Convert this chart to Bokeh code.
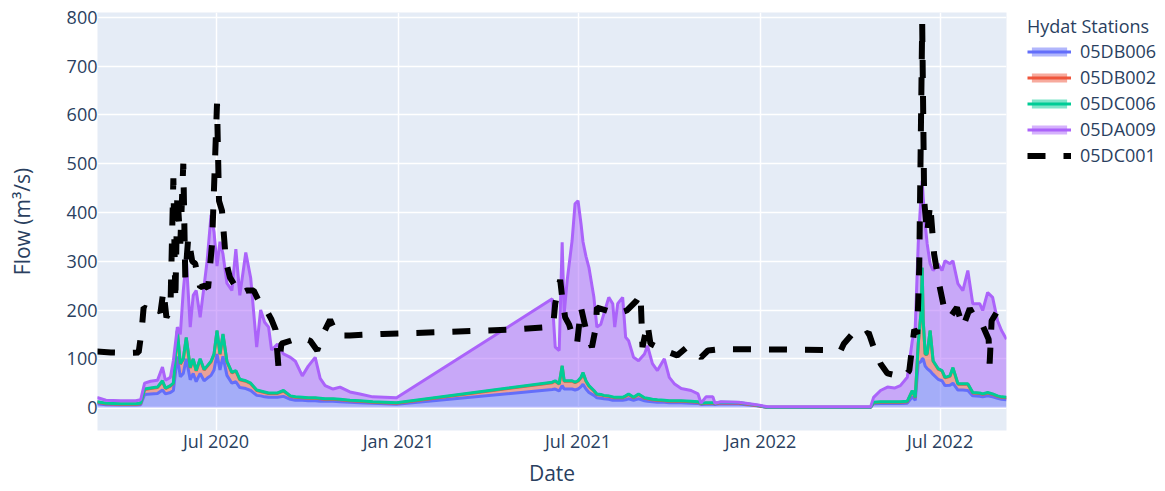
import pandas as pd
from datetime import datetime
from bokeh.plotting import figure
from bokeh.models import (ColumnDataSource, Range1d, FixedTicker, DatetimeTickFormatter,
                          Legend, LegendItem, Span)
from bokeh.embed import file_html
from bokeh.resources import INLINE

FONT = "Open Sans"
TEXT = "#2a3f5f"

stations = ["05DB006", "05DB002", "05DC006", "05DA009"]
colors = ["#636efa", "#EF553B", "#00cc96", "#ab63fa"]

stack_dates = [
    "2020-03-03", "2020-03-12", "2020-03-27", "2020-04-11", "2020-04-16", "2020-04-20", "2020-04-26",
    "2020-05-03", "2020-05-08", "2020-05-11", "2020-05-16", "2020-05-19", "2020-05-23", "2020-05-26",
    "2020-05-29", "2020-06-01", "2020-06-05", "2020-06-08", "2020-06-11", "2020-06-15", "2020-06-19",
    "2020-06-22", "2020-06-26", "2020-06-29", "2020-07-02", "2020-07-05", "2020-07-08", "2020-07-12",
    "2020-07-17", "2020-07-21", "2020-07-25", "2020-07-31", "2020-08-05", "2020-08-11", "2020-08-15",
    "2020-08-19", "2020-08-23", "2020-08-26", "2020-09-01", "2020-09-07", "2020-09-14", "2020-09-19",
    "2020-09-26", "2020-10-02", "2020-10-09", "2020-10-14", "2020-10-19", "2020-10-27", "2020-11-03",
    "2020-11-13", "2020-11-23", "2020-12-06", "2020-12-18", "2020-12-30",
    "2021-06-05", "2021-06-08", "2021-06-12", "2021-06-15", "2021-06-17", "2021-06-20", "2021-06-25",
    "2021-06-28", "2021-07-01", "2021-07-04", "2021-07-06", "2021-07-09", "2021-07-12", "2021-07-17",
    "2021-07-20", "2021-07-24", "2021-07-27", "2021-08-01", "2021-08-05", "2021-08-07", "2021-08-10",
    "2021-08-15", "2021-08-18", "2021-08-21", "2021-08-26", "2021-08-31", "2021-09-06", "2021-09-09",
    "2021-09-14", "2021-09-19", "2021-09-26", "2021-10-01", "2021-10-06", "2021-10-13", "2021-10-23",
    "2021-10-30", "2021-11-02", "2021-11-07", "2021-11-14", "2021-11-16", "2021-11-22", "2021-12-10",
    "2021-12-28", "2022-01-08", "2022-04-22", "2022-04-25", "2022-05-02", "2022-05-09", "2022-05-16",
    "2022-05-22", "2022-05-29", "2022-06-03", "2022-06-06", "2022-06-09", "2022-06-12", "2022-06-13",
    "2022-06-14", "2022-06-16", "2022-06-18", "2022-06-21", "2022-06-24", "2022-06-29", "2022-07-03",
    "2022-07-06", "2022-07-11", "2022-07-14", "2022-07-19", "2022-07-24", "2022-07-29", "2022-08-03",
    "2022-08-10", "2022-08-13", "2022-08-18", "2022-08-23", "2022-08-28", "2022-09-01", "2022-09-06",
]

flow_05DB006 = [
    8, 6, 5.5, 5.5, 6, 27, 28, 29, 36, 28, 31, 35, 105, 63, 70, 100, 57, 70, 53, 70, 55,
    60, 66, 77, 110, 77, 105, 66, 50, 53, 41, 39, 35, 25, 24, 22, 21, 21, 21, 23, 17, 15,
    15, 14, 14, 13, 13, 13, 12, 11, 10, 9, 8, 7,
    37, 38, 34, 45, 38, 38, 38, 36, 38, 43, 48, 38, 31, 25, 20, 19, 18, 17, 15, 15, 15,
    15, 16, 18, 15, 18, 14, 13, 12, 11, 11, 10, 10, 10, 9, 8.5, 6.5, 7, 7, 6.5, 8, 7.5,
    3.5, 0.3, 0.3, 8, 8.5, 8.5, 8.5, 8.5, 9, 22, 15, 90, 95, 100, 100, 85, 80, 75, 68, 58,
    55, 45, 46, 50, 36, 36, 35, 24, 23, 22, 24, 22, 19, 17, 16,
]

flow_05DB002 = [
    3, 2, 1.5, 1.5, 2, 10, 11, 12, 18, 11, 13, 14, 52, 26, 29, 43, 24, 29, 22, 29, 22,
    24, 28, 32, 47, 32, 45, 28, 21, 22, 16, 15, 14, 10, 9, 9, 8, 8, 8, 11, 6, 6,
    5, 5, 5, 5, 4, 4, 4, 3, 3, 2, 2, 2,
    14, 16, 14, 40, 16, 16, 16, 15, 16, 18, 23, 16, 13, 9, 7, 7, 6, 6, 6, 5, 5,
    5, 7, 9, 5, 9, 5, 5, 4, 4, 3, 3, 3, 3, 3, 2.5, 1.5, 2, 2, 1.5, 2, 2,
    0.5, 0.3, 0.3, 2, 2.5, 2.5, 2.5, 2.5, 3, 12, 5, 40, 104, 186, 79, 24, 29, 82, 27, 21,
    20, 16, 18, 31, 12, 12, 13, 6, 6, 5, 6, 5, 4, 4, 4,
]

flow_05DC006 = [
    1, 1, 1, 1, 1, 1, 1, 1, 1, 1, 1, 1, 1, 1, 1, 1, 1, 1, 1, 1, 1,
    1, 1, 1, 1, 1, 1, 1, 1, 1, 1, 1, 1, 1, 1, 1, 1, 1, 1, 1, 1, 1,
    1, 1, 1, 1, 1, 1, 1, 1, 1, 1, 1, 1,
    1, 1, 1, 1, 1, 1, 1, 1, 1, 1, 1, 1, 1, 1, 1, 1, 1, 1, 1, 1, 1,
    1, 1, 1, 1, 1, 1, 1, 1, 1, 1, 1, 1, 1, 1, 1, 1, 1, 1, 1, 1, 1,
    1, 0.2, 0.2, 1, 1, 1, 1, 1, 1, 1, 1, 1, 1, 1, 1, 1, 1, 1, 1, 1,
    1, 1, 1, 1, 1, 1, 1, 1, 1, 1, 1, 1, 1, 1, 1,
]

flow_05DA009 = [
    9, 6, 6, 6, 7, 12, 14, 14, 28, 16, 17, 46, 7, 60, 140, 161, 83, 130, 164, 85, 172,
    215, 300, 250, 132, 230, 164, 160, 168, 249, 172, 263, 215, 88, 166, 143, 135, 88, 100, 75, 79, 73,
    44, 65, 83, 41, 27, 20, 25, 17, 14, 10, 10, 10,
    171, 69, 68, 253, 137, 205, 287, 366, 369, 315, 268, 255, 242, 191, 137, 144, 167, 202, 191, 144, 192,
    205, 120, 109, 82, 68, 90, 108, 73, 60, 85, 48, 35, 25, 22, 16, 0, 12, 12, 0, 1, 0.5,
    1, 0.7, 0.7, 10, 23, 30, 28, 33, 49, 102, 144, 205, 240, 178, 251, 267, 226, 137, 185, 215,
    205, 239, 230, 219, 205, 191, 232, 182, 183, 171, 205, 198, 154, 136, 119,
]

dc001_dates = [
    "2020-03-03", "2020-03-17", "2020-04-01", "2020-04-14", "2020-04-17", "2020-04-19", "2020-04-26",
    "2020-05-01", "2020-05-06", "2020-05-09", "2020-05-12", "2020-05-16", "2020-05-19", "2020-05-21",
    "2020-05-23", "2020-05-26", "2020-05-29", "2020-05-31", "2020-06-03", "2020-06-07", "2020-06-10",
    "2020-06-15", "2020-06-20", "2020-06-23", "2020-06-27", "2020-07-02", "2020-07-04", "2020-07-07",
    "2020-07-11", "2020-07-15", "2020-07-20", "2020-07-25", "2020-08-01", "2020-08-08", "2020-08-14",
    "2020-08-21", "2020-08-26", "2020-08-30", "2020-09-02", "2020-09-05", "2020-09-14", "2020-09-24",
    "2020-10-04", "2020-10-11", "2020-10-17", "2020-10-24", "2020-10-31", "2020-11-13", "2020-12-16",
    "2021-02-19", "2021-04-27", "2021-05-31", "2021-06-06", "2021-06-08", "2021-06-13", "2021-06-15",
    "2021-06-18", "2021-06-22", "2021-06-26", "2021-06-30", "2021-07-04", "2021-07-10", "2021-07-15",
    "2021-07-19", "2021-07-20", "2021-07-30", "2021-08-09", "2021-08-19", "2021-08-29", "2021-09-02",
    "2021-09-04", "2021-09-09", "2021-09-12", "2021-09-26", "2021-10-09", "2021-10-19", "2021-11-02",
    "2021-11-09", "2021-11-22", "2022-03-23", "2022-03-26", "2022-04-05", "2022-04-12", "2022-04-20",
    "2022-04-25", "2022-05-02", "2022-05-09", "2022-05-26", "2022-05-31", "2022-06-05", "2022-06-08",
    "2022-06-10", "2022-06-13", "2022-06-15", "2022-06-18", "2022-06-21", "2022-06-25", "2022-06-30",
    "2022-07-05", "2022-07-11", "2022-07-18", "2022-07-24", "2022-07-31", "2022-08-07", "2022-08-13",
    "2022-08-19", "2022-08-20", "2022-08-22", "2022-08-27", "2022-09-06",
]

flow_05DC001 = [
    115, 113, 112, 113, 158, 205, 200,
    210, 195, 240, 185, 200, 470, 219,
    440, 336, 500, 267, 349, 300, 295,
    247, 250, 245, 336, 623, 424, 404,
    300, 267, 250, 233, 240, 240, 215,
    199, 180, 160, 82, 131, 137, 144,
    137, 117, 151, 180, 148, 148, 151,
    155, 160, 165, 170, 213, 262, 226,
    185, 170, 144, 131, 205, 151, 124,
    165, 205, 199, 192, 199, 219, 233,
    124, 172, 131, 117, 107, 124, 103,
    117, 120, 118, 131, 154, 144, 154,
    124, 90, 70, 62, 76, 160, 151,
    287, 787, 424, 356, 418, 315, 254,
    205, 185, 205, 165, 203, 178, 168,
    140, 90, 178, 195, 189,
]

x_tick_dates = ["2020-07-01", "2021-01-01", "2021-07-01", "2022-01-01", "2022-07-01"]
y_tick_values = [0, 100, 200, 300, 400, 500, 600, 700, 800]

src = ColumnDataSource(dict(
    date=pd.to_datetime(stack_dates),
    **{"05DB006": flow_05DB006, "05DB002": flow_05DB002,
       "05DC006": flow_05DC006, "05DA009": flow_05DA009}
))
src_dc001 = ColumnDataSource(dict(date=pd.to_datetime(dc001_dates), flow=flow_05DC001))

p = figure(
    frame_width=909, frame_height=418,
    x_axis_type="datetime",
    x_range=Range1d(start=datetime(2020, 3, 3, 12), end=datetime(2022, 9, 6)),
    y_range=Range1d(start=-47, end=810),
    output_backend="svg", toolbar_location=None,
    min_border_left=97, min_border_right=159, min_border_top=12, min_border_bottom=61,
    background_fill_color="#E5ECF6", border_fill_color="white", outline_line_color=None,
)

p.grid.grid_line_color = "white"
p.grid.grid_line_width = 1.5
p.add_layout(Span(location=0, dimension="width", line_color="white", line_width=3, level="underlay"))

areas = p.varea_stack(stackers=stations, x="date", source=src, fill_color=colors, fill_alpha=0.5)
lines = p.vline_stack(stackers=stations, x="date", source=src, line_color=colors, line_width=3)
dash_r = p.line(x="date", y="flow", source=src_dc001, line_color="black", line_width=6, line_dash="18 18")

# axes
p.xaxis.ticker = FixedTicker(ticks=[pd.Timestamp(d).value // 10**6 for d in x_tick_dates])
fmt = "%b %Y"
p.xaxis.formatter = DatetimeTickFormatter(years=fmt, months=fmt, days=fmt, hours=fmt,
                                          minutes=fmt, seconds=fmt, milliseconds=fmt)
p.yaxis.ticker = FixedTicker(ticks=y_tick_values)
p.xaxis.axis_label = "Date"
p.yaxis.axis_label = "Flow (m³/s)"
for ax in (p.xaxis, p.yaxis):
    ax.axis_line_color = None
    ax.major_tick_line_color = None
    ax.minor_tick_line_color = None
    ax.major_tick_out = 0
    ax.major_tick_in = 0
    ax.major_label_text_font = FONT
    ax.major_label_text_font_size = "18px"
    ax.major_label_text_color = TEXT
    ax.axis_label_text_font = FONT
    ax.axis_label_text_font_size = "21px"
    ax.axis_label_text_font_style = "normal"
    ax.axis_label_text_color = TEXT
p.xaxis.major_label_standoff = -2
p.xaxis.axis_label_standoff = 3
p.yaxis.major_label_standoff = 0
p.yaxis.axis_label_standoff = 28

items = [LegendItem(label=st, renderers=[areas[i], lines[i]]) for i, st in enumerate(stations)]
items.append(LegendItem(label="05DC001", renderers=[dash_r]))
legend = Legend(
    items=items, location=(21, 263), title="Hydat Stations",
    title_text_font=FONT, title_text_font_size="18px", title_text_font_style="normal",
    title_text_color=TEXT, title_standoff=1,
    label_text_font=FONT, label_text_font_size="18px", label_text_color=TEXT,
    glyph_width=44, glyph_height=11, label_standoff=9, spacing=2,
    padding=0, margin=0, border_line_color=None, background_fill_alpha=0,
)
p.add_layout(legend, "right")

open("out.html", "w").write(file_html(p, INLINE))
